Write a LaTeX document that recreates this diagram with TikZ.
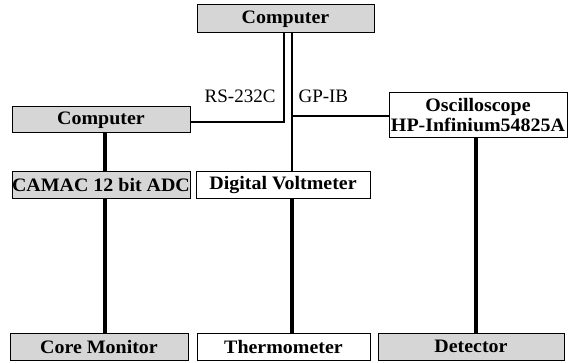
\documentclass[tikz,border=0pt]{standalone}
\usepackage{fontspec}
\setmainfont[BoldFeatures={FakeStretch=1.05}]{Liberation Serif}
\begin{document}
\begin{tikzpicture}[
    x=1pt, y=1pt,
    box/.style={draw, line width=1pt, inner sep=0pt, minimum height=26pt,
      font=\fontsize{19}{19.5}\selectfont\bfseries, align=center},
    grybox/.style={box, fill=black!16},
    lbl/.style={font=\fontsize{19}{20}\selectfont},
    bus/.style={line width=1.3pt},
    sig/.style={line width=3.6pt},
  ]
    \useasboundingbox (0,0) rectangle (577,-363);

    % instruments and computers
    \node[grybox, minimum width=177pt, minimum height=28pt] (pcTop) at (285.5,-19) {Computer};
    \node[grybox, minimum width=178pt] (pcLeft) at (101,-120) {Computer};
    \node[grybox, minimum width=178pt] (adc) at (101,-185) {CAMAC 12 bit ADC};
    \node[box, minimum width=174pt] (dvm) at (283,-185) {Digital Voltmeter};
    \node[box, minimum width=178pt, minimum height=45pt] (osc) at (478,-115)
      {Oscilloscope\\HP-Infinium54825A};

    % sensors
    \node[grybox, minimum width=178pt, minimum height=27pt] (core) at (99,-346.5) {Core Monitor};
    \node[box, minimum width=173pt, minimum height=27pt] (thermo) at (283.5,-346.5) {Thermometer};
    \node[grybox, minimum width=186pt, minimum height=27pt] (det) at (471,-346.5) {Detector};

    % RS-232C bus
    \coordinate (rsTop) at (284,-33);
    \coordinate (rsBend) at (284,-122);
    \draw[bus] (rsTop) -- (rsBend) -- (rsBend -| pcLeft.east);
    \node[lbl, anchor=east] (rsLbl) at (279,-96) {RS-232C};

    % GP-IB bus
    \coordinate (gpTop) at (292,-33);
    \coordinate (gpTee) at (292,-116);
    \draw[bus] (gpTop) -- (gpTop |- dvm.north);
    \draw[bus] (gpTee) -- (gpTee -| osc.west);
    \node[lbl, anchor=west] (gpLbl) at (295,-96) {GP-IB};

    % signal cables
    \coordinate (adcX) at (105,0);
    \coordinate (dvmX) at (292,0);
    \coordinate (detX) at (476,0);
    \draw[sig] (adcX |- pcLeft.south) -- (adcX |- adc.north);
    \draw[sig] (adcX |- adc.south) -- (adcX |- core.north);
    \draw[sig] (dvmX |- dvm.south) -- (dvmX |- thermo.north);
    \draw[sig] (detX |- osc.south) -- (detX |- det.north);
\end{tikzpicture}
\end{document}
